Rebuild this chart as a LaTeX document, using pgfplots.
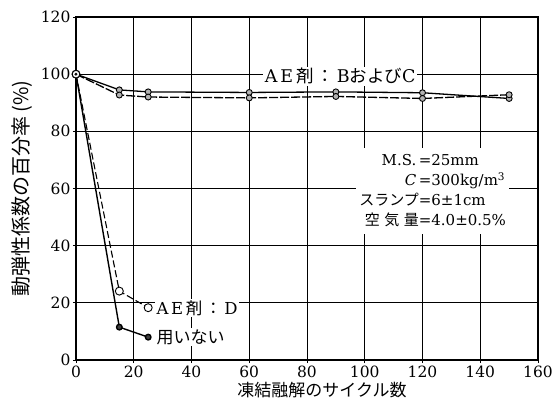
\documentclass[border=0pt]{standalone}
\usepackage{fontspec}
\usepackage{pgfplots}
\pgfplotsset{compat=1.18}
\setmainfont{DejaVu Serif}
\newfontfamily\jp{Noto Sans CJK JP}
\begin{document}
\begin{tikzpicture}
\begin{axis}[
  scale only axis, width=462pt, height=343pt,
  xmin=0, xmax=160, ymin=0, ymax=120,
  xtick={0,20,...,160}, ytick={0,20,...,120},
  grid=major, grid style={black, line width=0.8pt},
  axis line style={line width=1.3pt},
  tick style={black, line width=0.8pt}, major tick length=3pt,
  tick align=outside, tick pos=left,
  /pgf/number format/assume math mode=true,
  ticklabel style={font=\fontsize{15.5}{18}\selectfont},
  xticklabel style={yshift=1pt},
  yticklabel style={xshift=1pt},
  xlabel={\jp 凍結融解のサイクル数},
  ylabel={\jp 動弾性係数の百分率 (\%)},
  xlabel style={font=\fontsize{17}{20}\selectfont, yshift=2pt, xshift=15pt},
  ylabel style={font=\fontsize{20}{22}\selectfont, yshift=2pt},
]
% AE agent B
\addplot[black, line width=1.3pt, mark=*, mark size=3pt, mark options={solid, fill=gray!60, draw=black, line width=0.9pt}]
  coordinates {(0,100) (15,94.5) (25,93.8) (60,93.6) (90,93.8) (120,93.5) (150,91.5)};
% AE agent C
\addplot[black, line width=1.3pt, dash pattern=on 9pt off 2pt, mark=*, mark size=3pt, mark options={solid, fill=gray!60, draw=black, line width=0.9pt}]
  coordinates {(0,100) (15,92.7) (25,92.0) (60,91.7) (90,92.2) (120,91.5) (150,92.8)};
% AE agent D
\addplot[black, line width=1.1pt, dash pattern=on 7pt off 3pt, mark=*, mark size=4pt, mark options={solid, fill=white, draw=black, line width=0.9pt}]
  coordinates {(0,100) (15,24.1) (25,18.3)};
% none
\addplot[black, line width=1.4pt, mark=*, mark size=2.8pt, mark options={solid, fill=black!75, draw=black}]
  coordinates {(0,100) (15,11.5) (25,8.0)};
\addplot[only marks, mark=*, mark size=3.8pt, mark options={fill=white, draw=black, line width=0.9pt}] coordinates {(0,100)};
\addplot[only marks, mark=*, mark size=1.3pt, mark options={fill=black}] coordinates {(0,100)};

\node[fill=white, inner sep=1.5pt, font=\fontsize{17.5}{20}\selectfont] at (axis cs:91.5,99.3)
  {A\,E\,{\jp 剤\,：\,}B{\jp および}C};
\node[fill=white, inner sep=1.5pt, anchor=west, font=\fontsize{16.5}{20}\selectfont] at (axis cs:27.3,18.2)
  {A\,E\,{\jp 剤\,：\,}D};
\node[fill=white, inner sep=1.5pt, anchor=west, font=\fontsize{17}{20}\selectfont] at (axis cs:27.3,8.0)
  {{\jp 用いない}};
\node[fill=white, inner sep=3pt, font=\fontsize{15}{20}\selectfont] at (axis cs:123.5,59)
  {\begin{tabular}{@{}r@{}l@{}}
   M.S.\,& =25mm\\
   \textit{C}\,& =300kg/m\textsuperscript{3}\\
   {\jp スランプ}& =6±1cm\\
   {\jp 空\hspace{0.3em}気\hspace{0.3em}量}& =4.0±0.5\%
   \end{tabular}};
\end{axis}
\pgfresetboundingbox
\useasboundingbox (current axis.south west) ++(-76pt,-53pt) rectangle ([xshift=22pt,yshift=17pt]current axis.north east);
\end{tikzpicture}
\end{document}
